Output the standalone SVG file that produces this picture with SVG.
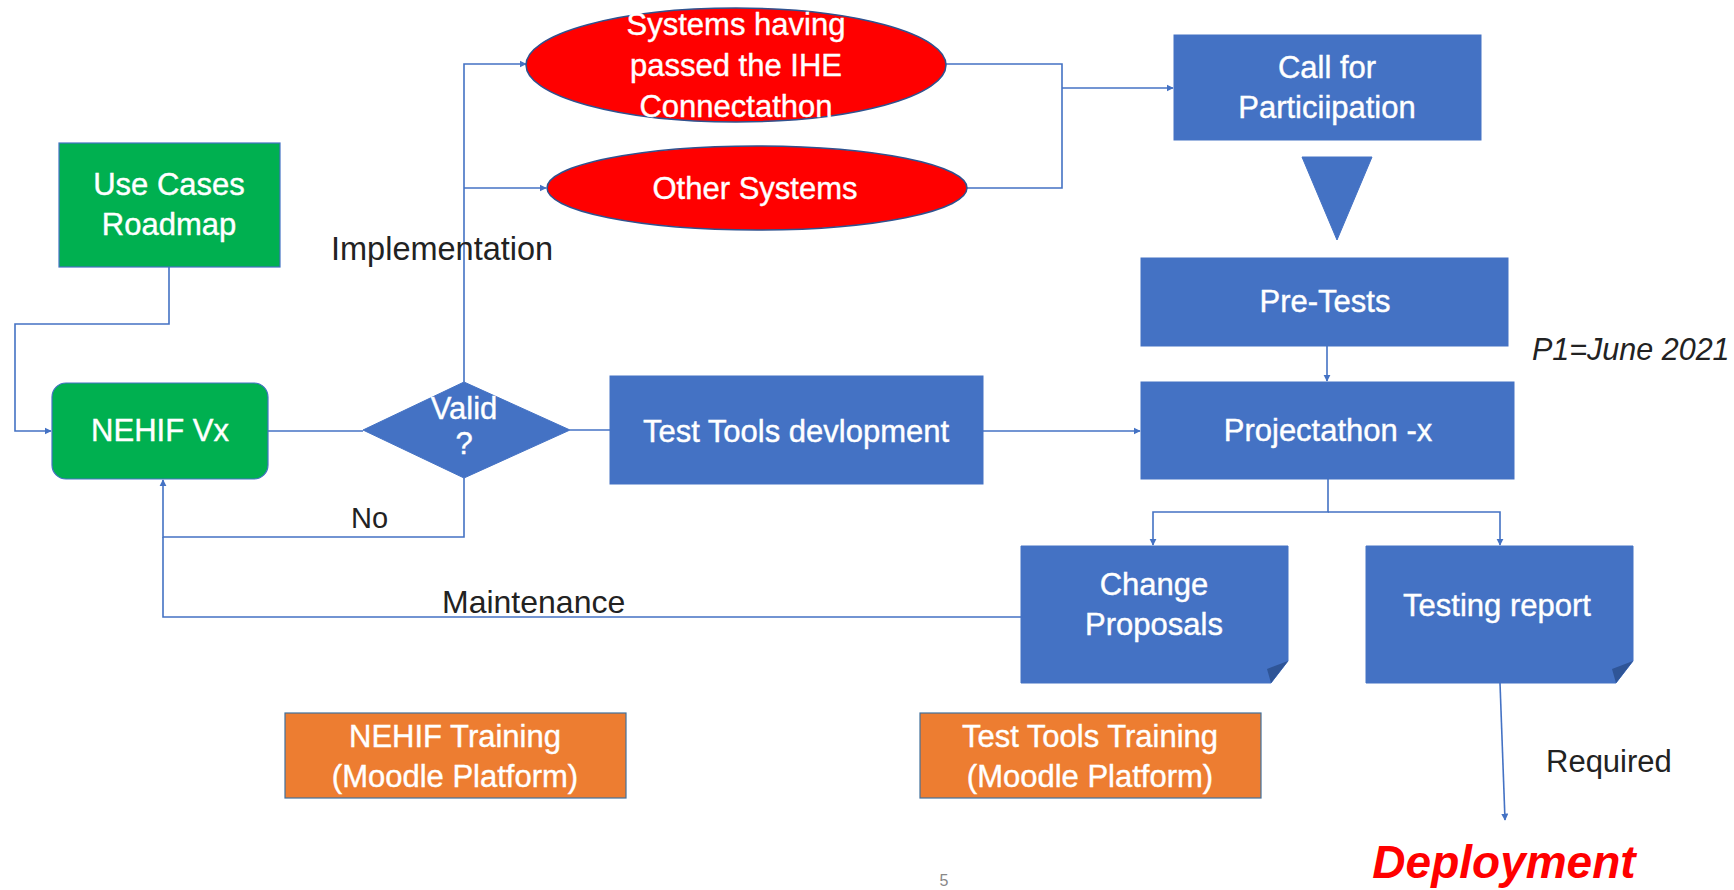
<svg xmlns="http://www.w3.org/2000/svg" width="1734" height="890" viewBox="0 0 1734 890">
<style>
.t{font-family:"Liberation Sans",Arial,sans-serif;font-size:31px;fill:#fff;stroke:#fff;stroke-width:0.4;text-anchor:middle;dominant-baseline:central}
.lbl{font-family:"Liberation Sans",Arial,sans-serif;fill:#222;dominant-baseline:central}
.blue{fill:#4472C4;stroke:#4472C4;stroke-width:1}
.green{fill:#00B050;stroke:#4472C4;stroke-width:1.2}
.red{fill:#FF0000;stroke:#2F528F;stroke-width:1.5}
.orange{fill:#ED7D31;stroke:#41719C;stroke-width:1.2}
.fold{fill:#2F5597}
.c{fill:none;stroke:#4472C4;stroke-width:1.6}
</style>
<defs>
<marker id="ah" viewBox="0 0 10 10" refX="9" refY="5" markerWidth="4.5" markerHeight="4.5" orient="auto" markerUnits="strokeWidth">
<path d="M0,0 L10,5 L0,10 z" fill="#4472C4"/>
</marker>
</defs>
<rect width="1734" height="890" fill="#fff"/>

<g id="connectors">
<path class="c" d="M169,267 V324 H15 V431 H51" marker-end="url(#ah)"/>
<path class="c" d="M268,431 H363"/>
<path class="c" d="M570,430 H610"/>
<path class="c" d="M464,382 V64 H526" marker-end="url(#ah)"/>
<path class="c" d="M464,188 H546" marker-end="url(#ah)"/>
<path class="c" d="M946,64 H1062 V188 H967"/>
<path class="c" d="M1062,88 H1173" marker-end="url(#ah)"/>
<path class="c" d="M1327,346 V381" marker-end="url(#ah)"/>
<path class="c" d="M983,431 H1140" marker-end="url(#ah)"/>
<path class="c" d="M464,478 V537 H163 V480" marker-end="url(#ah)"/>
<path class="c" d="M1021,617 H163 V537"/>
<path class="c" d="M1328,479 V512 H1153 V545" marker-end="url(#ah)"/>
<path class="c" d="M1328,512 H1500 V545" marker-end="url(#ah)"/>
<path class="c" d="M1500,683 L1505,820" marker-end="url(#ah)"/>
</g>

<g id="use-cases">
<rect class="green" x="59" y="143" width="221" height="124"/>
<text class="t" x="169" y="184">Use Cases</text>
<text class="t" x="169" y="224">Roadmap</text>
</g>

<g id="nehif-vx">
<rect class="green" x="52" y="383" width="216" height="96" rx="14"/>
<text class="t" x="160" y="430">NEHIF Vx</text>
</g>

<g id="valid">
<polygon class="blue" points="363,430 464,382 570,430 464,478"/>
<text class="t" x="464" y="408">Valid</text>
<text class="t" x="464" y="443">?</text>
</g>

<g id="systems-ihe">
<ellipse class="red" cx="736" cy="65" rx="210" ry="57"/>
<text class="t" x="736" y="24">Systems having</text>
<text class="t" x="736" y="65">passed the IHE</text>
<text class="t" x="736" y="106">Connectathon</text>
</g>

<g id="other-systems">
<ellipse class="red" cx="757" cy="188" rx="210" ry="42"/>
<text class="t" x="755" y="188">Other Systems</text>
</g>

<g id="call">
<rect class="blue" x="1174" y="35" width="307" height="105"/>
<text class="t" x="1327" y="67">Call for</text>
<text class="t" x="1327" y="107">Particiipation</text>
</g>

<g id="triangle">
<polygon class="blue" points="1302,157 1372,157 1337,240"/>
</g>

<g id="pre-tests">
<rect class="blue" x="1141" y="258" width="367" height="88"/>
<text class="t" x="1325" y="301">Pre-Tests</text>
</g>

<g id="test-tools">
<rect class="blue" x="610" y="376" width="373" height="108"/>
<text class="t" x="796" y="431">Test Tools devlopment</text>
</g>

<g id="projectathon">
<rect class="blue" x="1141" y="382" width="373" height="97"/>
<text class="t" x="1328" y="430">Projectathon -x</text>
</g>

<g id="change-proposals">
<path class="blue" d="M1021,546 H1288 V661 L1271,683 H1021 Z"/>
<polygon class="fold" points="1288,661 1271,683 1267,669"/>
<text class="t" x="1154" y="584">Change</text>
<text class="t" x="1154" y="624">Proposals</text>
</g>

<g id="testing-report">
<path class="blue" d="M1366,546 H1633 V661 L1616,683 H1366 Z"/>
<polygon class="fold" points="1633,661 1616,683 1612,669"/>
<text class="t" x="1497" y="605">Testing report</text>
</g>

<g id="nehif-training">
<rect class="orange" x="285" y="713" width="341" height="85"/>
<text class="t" x="455" y="736">NEHIF Training</text>
<text class="t" x="455" y="776">(Moodle Platform)</text>
</g>

<g id="tt-training">
<rect class="orange" x="920" y="713" width="341" height="85"/>
<text class="t" x="1090" y="736">Test Tools Training</text>
<text class="t" x="1090" y="776">(Moodle Platform)</text>
</g>

<g id="labels">
<text class="lbl" x="331" y="249" style="font-size:32.5px">Implementation</text>
<text class="lbl" x="351" y="518" style="font-size:29px">No</text>
<text class="lbl" x="442" y="602" style="font-size:32px">Maintenance</text>
<text class="lbl" x="1532" y="349" style="font-size:30.5px;font-style:italic">P1=June 2021</text>
<text class="lbl" x="1546" y="761" style="font-size:31px">Required</text>
<text x="1504" y="862" font-family="Liberation Sans,Arial,sans-serif" font-size="46" font-weight="bold" font-style="italic" fill="#FF0000" text-anchor="middle" dominant-baseline="central">Deployment</text>
<text x="944" y="880" font-family="Liberation Sans,Arial,sans-serif" font-size="16" fill="#888" text-anchor="middle" dominant-baseline="central">5</text>
</g>
</svg>
